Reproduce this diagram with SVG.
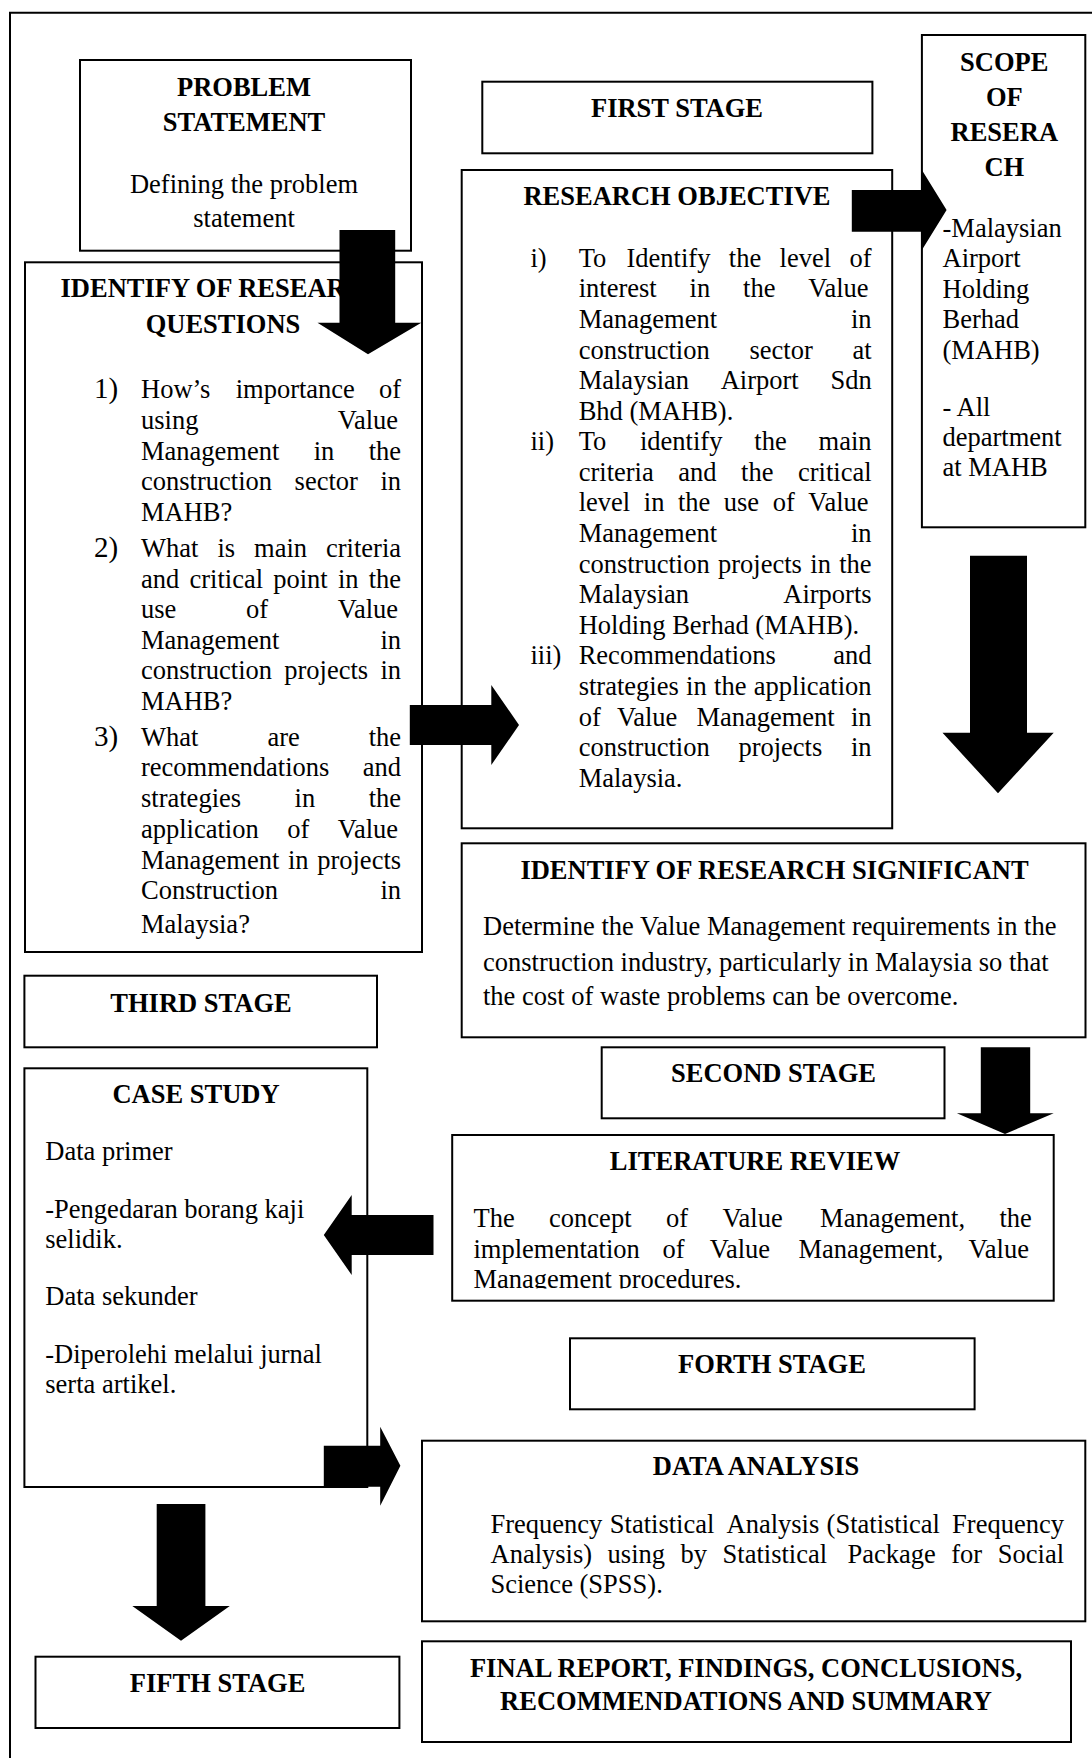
<svg xmlns="http://www.w3.org/2000/svg" width="1092" height="1758" viewBox="0 0 1092 1758">
<style>
.box{fill:#fff;stroke:#000;stroke-width:2}
.t{font-family:"Liberation Serif","Times New Roman",serif;font-size:26.5px;fill:#000}
.b{font-weight:bold;text-anchor:middle}
.c{text-anchor:middle}
.num{font-size:29px}
.arrow{fill:#000;stroke:none}
</style>
<defs>
<clipPath id="lrclip"><rect x="452" y="1135" width="602" height="153.5"/></clipPath>
</defs>
<rect width="1092" height="1758" fill="#fff"/>
<path d="M10,1758 V12.7 H1092" fill="none" stroke="#000" stroke-width="2"/>

<g id="problem-statement">
<rect class="box" x="80" y="60" width="331" height="190.7"/>
<text class="t b" x="244" y="96">PROBLEM</text>
<text class="t b" x="244" y="130.7">STATEMENT</text>
<text class="t c" x="244" y="192.7">Defining the problem</text>
<text class="t c" x="244" y="226.7">statement</text>
</g>

<g id="first-stage">
<rect class="box" x="482.3" y="81.7" width="390.1" height="71.6"/>
<text class="t b" x="677" y="117.3">FIRST STAGE</text>
</g>

<g id="scope-of-research">
<rect class="box" x="921.9" y="35" width="163.4" height="492.3"/>
<text class="t b" x="1004.3" y="71">SCOPE</text>
<text class="t b" x="1004.3" y="106">OF</text>
<text class="t b" x="1004.3" y="140.7">RESERA</text>
<text class="t b" x="1004.3" y="175.5">CH</text>
<text class="t" x="942.5" y="236.7">-Malaysian</text>
<text class="t" x="942.5" y="266.7">Airport</text>
<text class="t" x="942.5" y="297.7">Holding</text>
<text class="t" x="942.5" y="328.3">Berhad</text>
<text class="t" x="942.5" y="359.3">(MAHB)</text>
<text class="t" x="942.5" y="416">- All</text>
<text class="t" x="942.5" y="446">department</text>
<text class="t" x="942.5" y="476">at MAHB</text>
</g>

<g id="research-objective">
<rect class="box" x="461.7" y="170" width="430.5" height="658.3"/>
<text class="t b" x="677" y="205">RESEARCH OBJECTIVE</text>
<text class="t" x="530.5" y="266.7">i)</text>
<text class="t" y="266.7"><tspan x="578.7">To</tspan><tspan x="626.5">Identify</tspan><tspan x="728.8">the</tspan><tspan x="779.6">level</tspan><tspan x="849.5">of</tspan></text>
<text class="t" y="297.3"><tspan x="578.7">interest</tspan><tspan x="689.6">in</tspan><tspan x="743.1">the</tspan><tspan x="808.3">Value</tspan></text>
<text class="t" y="327.9"><tspan x="578.7">Management</tspan><tspan x="851">in</tspan></text>
<text class="t" y="358.5"><tspan x="578.7">construction</tspan><tspan x="749.5">sector</tspan><tspan x="852.5">at</tspan></text>
<text class="t" y="389.1"><tspan x="578.7">Malaysian</tspan><tspan x="720.7">Airport</tspan><tspan x="830.4">Sdn</tspan></text>
<text class="t" x="578.7" y="419.7">Bhd (MAHB).</text>
<text class="t" x="530.5" y="450.2">ii)</text>
<text class="t" y="450.2"><tspan x="578.7">To</tspan><tspan x="640">identify</tspan><tspan x="754.3">the</tspan><tspan x="818.6">main</tspan></text>
<text class="t" y="480.8"><tspan x="578.7">criteria</tspan><tspan x="678.3">and</tspan><tspan x="741.1">the</tspan><tspan x="798">critical</tspan></text>
<text class="t" y="511.4"><tspan x="578.7">level</tspan><tspan x="643.8">in</tspan><tspan x="677.9">the</tspan><tspan x="723.8">use</tspan><tspan x="772.7">of</tspan><tspan x="808.3">Value</tspan></text>
<text class="t" y="542"><tspan x="578.7">Management</tspan><tspan x="851">in</tspan></text>
<text class="t" y="572.6"><tspan x="578.7">construction</tspan><tspan x="718">projects</tspan><tspan x="810.3">in</tspan><tspan x="839.2">the</tspan></text>
<text class="t" y="603.2"><tspan x="578.7">Malaysian</tspan><tspan x="783.3">Airports</tspan></text>
<text class="t" x="578.7" y="633.8">Holding Berhad (MAHB).</text>
<text class="t" x="530.5" y="664.4">iii)</text>
<text class="t" y="664.4"><tspan x="578.7">Recommendations</tspan><tspan x="833.3">and</tspan></text>
<text class="t" y="695"><tspan x="578.7">strategies</tspan><tspan x="686.1">in</tspan><tspan x="714.1">the</tspan><tspan x="753.8">application</tspan></text>
<text class="t" y="725.6"><tspan x="578.7">of</tspan><tspan x="617">Value</tspan><tspan x="696.4">Management</tspan><tspan x="851">in</tspan></text>
<text class="t" y="756.1"><tspan x="578.7">construction</tspan><tspan x="738.4">projects</tspan><tspan x="851">in</tspan></text>
<text class="t" x="578.7" y="786.7">Malaysia.</text>
</g>

<g id="research-questions">
<rect class="box" x="25" y="262.3" width="397" height="689.7"/>
<text class="t b" x="223" y="296.7">IDENTIFY OF RESEARCH</text>
<text class="t b" x="223" y="333.3">QUESTIONS</text>
<text class="t num" x="94" y="398">1)</text>
<text class="t" y="398"><tspan x="141">How’s</tspan><tspan x="235.7">importance</tspan><tspan x="379">of</tspan></text>
<text class="t" y="428.8"><tspan x="141">using</tspan><tspan x="337.8">Value</tspan></text>
<text class="t" y="459.6"><tspan x="141">Management</tspan><tspan x="313.7">in</tspan><tspan x="368.7">the</tspan></text>
<text class="t" y="490.4"><tspan x="141">construction</tspan><tspan x="294.6">sector</tspan><tspan x="380.5">in</tspan></text>
<text class="t" x="141" y="521">MAHB?</text>
<text class="t num" x="94" y="557">2)</text>
<text class="t" y="557"><tspan x="141">What</tspan><tspan x="217.4">is</tspan><tspan x="254.1">main</tspan><tspan x="326">criteria</tspan></text>
<text class="t" y="587.6"><tspan x="141">and</tspan><tspan x="189.5">critical</tspan><tspan x="273.2">point</tspan><tspan x="337.9">in</tspan><tspan x="368.7">the</tspan></text>
<text class="t" y="618.2"><tspan x="141">use</tspan><tspan x="246">of</tspan><tspan x="337.8">Value</tspan></text>
<text class="t" y="648.6"><tspan x="141">Management</tspan><tspan x="380.5">in</tspan></text>
<text class="t" y="679.2"><tspan x="141">construction</tspan><tspan x="284.3">projects</tspan><tspan x="380.5">in</tspan></text>
<text class="t" x="141" y="709.5">MAHB?</text>
<text class="t num" x="94" y="745.7">3)</text>
<text class="t" y="745.7"><tspan x="141">What</tspan><tspan x="267.4">are</tspan><tspan x="368.7">the</tspan></text>
<text class="t" y="776.4"><tspan x="141">recommendations</tspan><tspan x="362.8">and</tspan></text>
<text class="t" y="807.1"><tspan x="141">strategies</tspan><tspan x="294.6">in</tspan><tspan x="368.7">the</tspan></text>
<text class="t" y="837.9"><tspan x="141">application</tspan><tspan x="287.3">of</tspan><tspan x="337.8">Value</tspan></text>
<text class="t" y="868.6"><tspan x="141">Management</tspan><tspan x="288">in</tspan><tspan x="317.2">projects</tspan></text>
<text class="t" y="898.6"><tspan x="141">Construction</tspan><tspan x="380.5">in</tspan></text>
<text class="t" x="141" y="932.5">Malaysia?</text>
</g>

<g id="research-significant">
<rect class="box" x="461.7" y="843.3" width="623.8" height="194"/>
<text class="t b" x="774.5" y="879.3">IDENTIFY OF RESEARCH SIGNIFICANT</text>
<text class="t" x="483" y="935">Determine the Value Management requirements in the</text>
<text class="t" x="483" y="970.7">construction industry, particularly in Malaysia so that</text>
<text class="t" x="483" y="1005">the cost of waste problems can be overcome.</text>
</g>

<g id="third-stage">
<rect class="box" x="24.4" y="975.7" width="352.6" height="71.6"/>
<text class="t b" x="201" y="1011.7">THIRD STAGE</text>
</g>

<g id="second-stage">
<rect class="box" x="601.7" y="1047.3" width="342.8" height="71"/>
<text class="t b" x="773.5" y="1081.7">SECOND STAGE</text>
</g>

<g id="case-study">
<rect class="box" x="24.4" y="1068.3" width="342.9" height="418.7"/>
<text class="t b" x="196" y="1103.3">CASE STUDY</text>
<text class="t" x="45.3" y="1160">Data primer</text>
<text class="t" x="45.3" y="1218.3">-Pengedaran borang kaji</text>
<text class="t" x="45.3" y="1248.3">selidik.</text>
<text class="t" x="45.3" y="1305">Data sekunder</text>
<text class="t" x="45.3" y="1363.3">-Diperolehi melalui jurnal</text>
<text class="t" x="45.3" y="1393.3">serta artikel.</text>
</g>

<g id="literature-review">
<rect class="box" x="452.2" y="1135" width="601.5" height="165.7"/>
<text class="t b" x="755" y="1170">LITERATURE REVIEW</text>
<text class="t" y="1227.3"><tspan x="473.5">The</tspan><tspan x="549.1">concept</tspan><tspan x="666">of</tspan><tspan x="722.4">Value</tspan><tspan x="820.1">Management,</tspan><tspan x="999.5">the</tspan></text>
<text class="t" y="1257.6"><tspan x="473.5">implementation</tspan><tspan x="662.5">of</tspan><tspan x="709.8">Value</tspan><tspan x="798.4">Management,</tspan><tspan x="968.6">Value</tspan></text>
<text class="t" x="473.5" y="1288" clip-path="url(#lrclip)">Management procedures.</text>
</g>

<g id="forth-stage">
<rect class="box" x="570" y="1338.3" width="404.6" height="71"/>
<text class="t b" x="772" y="1372.7">FORTH STAGE</text>
</g>

<g id="data-analysis">
<rect class="box" x="422" y="1440.7" width="663.3" height="180.6"/>
<text class="t b" x="756" y="1475">DATA ANALYSIS</text>
<text class="t" y="1532.7"><tspan x="490.5">Frequency</tspan><tspan x="609.8">Statistical</tspan><tspan x="726.5">Analysis</tspan><tspan x="826.6">(Statistical</tspan><tspan x="952.1">Frequency</tspan></text>
<text class="t" y="1563.3"><tspan x="490.5">Analysis)</tspan><tspan x="607.6">using</tspan><tspan x="680.6">by</tspan><tspan x="722.6">Statistical</tspan><tspan x="847.5">Package</tspan><tspan x="951.3">for</tspan><tspan x="997.8">Social</tspan></text>
<text class="t" x="490.5" y="1593.3">Science (SPSS).</text>
</g>

<g id="fifth-stage">
<rect class="box" x="35.5" y="1656.7" width="363.9" height="71.3"/>
<text class="t b" x="217.6" y="1692.3">FIFTH STAGE</text>
</g>

<g id="final-report">
<rect class="box" x="422" y="1641.3" width="649" height="100.7"/>
<text class="t b" x="746" y="1676.7">FINAL REPORT, FINDINGS, CONCLUSIONS,</text>
<text class="t b" x="746" y="1710">RECOMMENDATIONS AND SUMMARY</text>
</g>

<g id="connectors">
<polygon class="arrow" points="339.5,230 395.2,230 395.2,322.7 421.3,322.7 368,354.3 317.5,322.7 339.5,322.7"/>
<polygon class="arrow" points="851.8,190 921.9,190 921.9,170 946.6,210 921.9,250 921.9,231.7 851.8,231.7"/>
<polygon class="arrow" points="409.8,705 491.3,705 491.3,685 519,725 491.3,765 491.3,745 409.8,745"/>
<polygon class="arrow" points="970,555.7 1027,555.7 1027,732.7 1053.7,732.7 998,793.3 942.5,732.7 970,732.7"/>
<polygon class="arrow" points="980.8,1047.3 1030.2,1047.3 1030.2,1113.3 1053.7,1113.3 1005,1134 956.9,1113.3 980.8,1113.3"/>
<polygon class="arrow" points="433.5,1215 351.7,1215 351.7,1195 323.8,1235 351.7,1275 351.7,1255 433.5,1255"/>
<polygon class="arrow" points="323.8,1445.7 380.2,1445.7 380.2,1426.7 400.4,1465.7 380.2,1505.7 380.2,1486.7 323.8,1486.7"/>
<polygon class="arrow" points="156.7,1504 205.4,1504 205.4,1606 229.8,1606 181,1640.7 132.3,1606 156.7,1606"/>
</g>
</svg>
